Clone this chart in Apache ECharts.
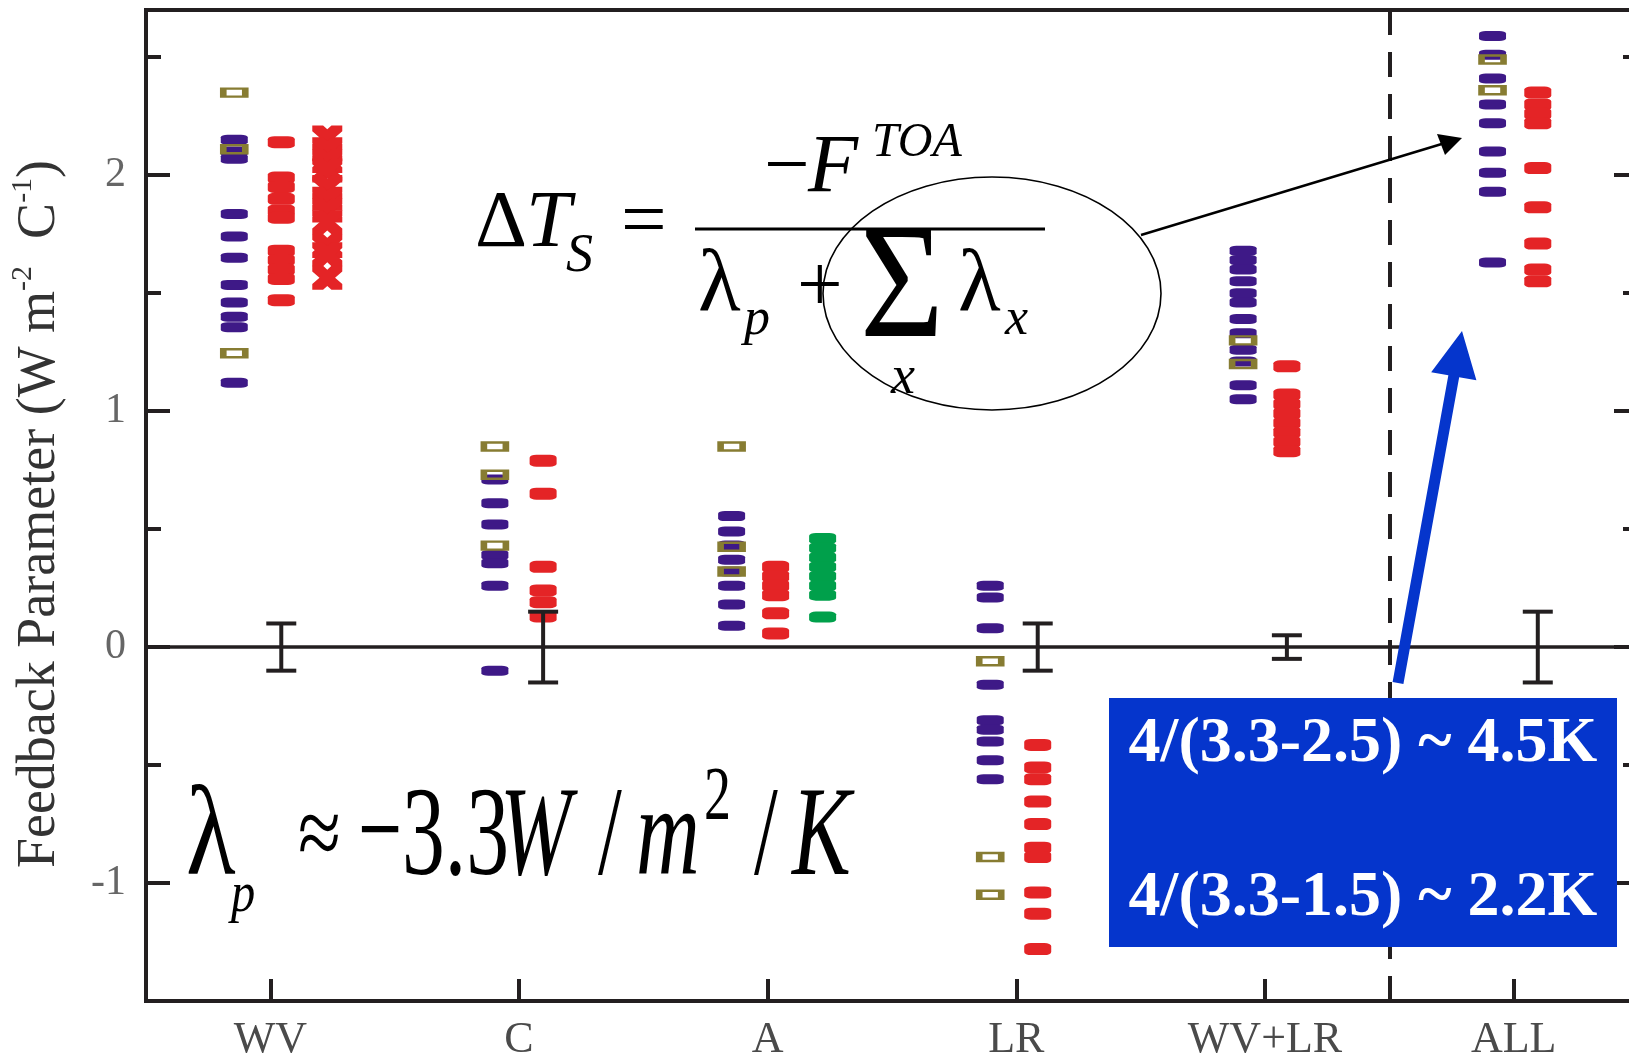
<!DOCTYPE html>
<html><head><meta charset="utf-8">
<script src="https://cdn.jsdelivr.net/npm/echarts@6/dist/echarts.min.js"></script>
<style>html,body{margin:0;padding:0;background:#fff}#c{width:1629px;height:1060px}</style>
</head><body><div id="c"></div>
<script>
// ---------------- DATA ----------------
const categories = ['WV', 'C', 'A', 'LR', 'WV+LR', 'ALL'];
const yTickLabels = [-1, 0, 1, 2];
const yMinorTicks = [-1.5, -0.5, 0.5, 1.5, 2.5];
const xTickValues = [0, 1, 2, 3, 4, 4.5, 5];
const separatorAt = 4.5;

// per category (WV, C, A, LR, WV+LR, ALL)
const purpleValues = [
  [2.15, 2.10, 2.07, 1.835, 1.74, 1.65, 1.535, 1.46, 1.40, 1.355, 1.12],
  [0.71, 0.61, 0.52, 0.39, 0.355, 0.26, -0.10],
  [0.555, 0.49, 0.43, 0.37, 0.32, 0.26, 0.18, 0.09],
  [0.26, 0.21, 0.08, -0.16, -0.31, -0.35, -0.40, -0.48, -0.56],
  [1.68, 1.64, 1.60, 1.55, 1.50, 1.46, 1.39, 1.33, 1.26, 1.21, 1.11, 1.05],
  [2.59, 2.51, 2.41, 2.30, 2.22, 2.10, 2.01, 1.93, 1.63]
];
const oliveValues = [
  [2.35, 2.11, 1.245],
  [0.85, 0.73, 0.43],
  [0.85, 0.425, 0.32],
  [-0.06, -0.89, -1.05],
  [1.30, 1.20],
  [2.49, 2.36]
];
const redValues = [
  [2.14, 1.99, 1.95, 1.90, 1.85, 1.82, 1.68, 1.64, 1.60, 1.56, 1.47],
  [0.79, 0.65, 0.34, 0.24, 0.19, 0.13],
  [0.34, 0.30, 0.26, 0.22, 0.143, 0.058],
  [-0.415, -0.51, -0.56, -0.655, -0.75, -0.85, -0.89, -1.04, -1.13, -1.28],
  [1.19, 1.07, 1.03, 0.99, 0.95, 0.91, 0.87, 0.83],
  [2.35, 2.30, 2.26, 2.22, 2.03, 1.864, 1.71, 1.60, 1.55]
];
const redCrossValuesWV = [2.16, 2.11, 2.06, 2.02, 1.95, 1.90, 1.85, 1.80, 1.70, 1.665, 1.565];
const greenValuesA = [0.46, 0.42, 0.38, 0.34, 0.30, 0.26, 0.22, 0.127];
const errorHalfWidth = [0.10, 0.15, null, 0.10, 0.05, 0.15];

// ---------------- STYLE (column offsets within a category) ----------------
const OFF_PURPLE = [-0.145, -0.097, -0.145, -0.105, -0.088, -0.085];
const OFF_RED = [0.044, 0.097, 0.032, 0.086, 0.088, 0.097];
const OFF_CROSS = 0.229, OFF_GREEN = 0.221;
const INK = '#231f20';
const FONT = '"Liberation Serif", "DejaVu Serif", serif';

function build(vals, offs) {
  const out = [];
  vals.forEach((arr, i) => arr.forEach(v => out.push([i + offs[i], v])));
  return out;
}
const purpleData = build(purpleValues, OFF_PURPLE);
const oliveData = build(oliveValues, OFF_PURPLE);
const redData = build(redValues, OFF_RED);
const crossData = redCrossValuesWV.map(v => [0 + OFF_CROSS, v]);
const greenData = greenValuesA.map(v => [2 + OFF_GREEN, v]);
const errData = [];
errorHalfWidth.forEach((h, i) => { if (h != null) errData.push([i + OFF_RED[i], -h, h]); });

// ---------------- ANNOTATIONS ----------------
function tx(text, left, baseline, fs, o) {
  o = o || {};
  return {
    type: 'text', x: left, y: baseline - 0.3375 * fs, scaleX: o.sx || 1, z: 100, silent: true,
    style: {
      text: text, fontFamily: FONT, fontSize: fs,
      fontStyle: o.it ? 'italic' : 'normal', fontWeight: o.b ? 'bold' : 'normal',
      fill: o.fill || '#000', align: o.align || 'left', verticalAlign: 'middle'
    }
  };
}
function arrowPoly(tail, tip, shaftHalf, headLen, headHalf) {
  const dx = tip[0] - tail[0], dy = tip[1] - tail[1];
  const L = Math.sqrt(dx * dx + dy * dy);
  const d = [dx / L, dy / L], n = [-d[1], d[0]];
  const B = [tip[0] - headLen * d[0], tip[1] - headLen * d[1]];
  const p = (P, k) => [P[0] + k * n[0], P[1] + k * n[1]];
  return [p(tail, -shaftHalf), p(B, -shaftHalf), p(B, -headHalf), tip, p(B, headHalf), p(B, shaftHalf), p(tail, shaftHalf)];
}
const BLUE = '#0535cc';
const graphics = [
  // y-axis title
  {
    type: 'text', x: 40, y: 514, rotation: Math.PI / 2, z: 100, silent: true,
    style: {
      text: '{a|Feedback Parameter (W m}{s|-2}{a|  C}{s|-1}{a|)}',
      align: 'center', verticalAlign: 'middle',
      rich: {
        a: { fontFamily: FONT, fontSize: 54, fill: '#333', lineHeight: 64 },
        s: { fontFamily: FONT, fontSize: 30, fill: '#333', lineHeight: 34, verticalAlign: 'top' }
      }
    }
  },
  // Delta T equation
  tx('Δ', 475, 252, 81),
  tx('T', 526, 252, 81, { it: 1 }),
  tx('S', 566, 275, 54, { it: 1 }),
  tx('=', 621, 252, 81),
  { type: 'line', z: 100, silent: true, shape: { x1: 695, y1: 229, x2: 1045, y2: 229 }, style: { stroke: '#000', lineWidth: 3 } },
  tx('−', 764, 197, 81),
  tx('F', 808, 197, 82, { it: 1 }),
  tx('TOA', 872, 160, 48, { it: 1 }),
  tx('λ', 698, 318, 88),
  tx('p', 744, 338, 52, { it: 1 }),
  tx('+', 797, 317, 81),
  tx('Σ', 860, 348, 160, { sx: 0.9 }),
  tx('x', 891, 397, 54, { it: 1 }),
  tx('λ', 958, 318, 88),
  tx('x', 1005, 338, 52, { it: 1 }),
  // ellipse and black arrow
  { type: 'ellipse', z: 100, silent: true, shape: { cx: 992, cy: 293.5, rx: 169, ry: 116.5 }, style: { fill: 'none', stroke: '#000', lineWidth: 1.6 } },
  { type: 'line', z: 100, silent: true, shape: { x1: 1141, y1: 235, x2: 1445, y2: 143 }, style: { stroke: '#000', lineWidth: 2.4 } },
  { type: 'polygon', z: 100, silent: true, shape: { points: [[1462, 138], [1437, 134], [1445, 155]] }, style: { fill: '#000' } },
  // lambda_p text
  tx('λ', 186, 883, 128, { sx: 0.8 }),
  tx('p', 231, 915, 57, { it: 1, sx: 0.85 }),
  tx('≈', 298, 873, 100, { sx: 0.78 }),
  tx('−', 358, 880, 126, { sx: 0.62 }),
  tx('3.3', 402, 883, 126, { sx: 0.68 }),
  tx('W', 500, 883, 126, { it: 1, sx: 0.68 }),
  tx('/', 598, 883, 126, { sx: 0.68 }),
  tx('m', 636, 883, 126, { it: 1, sx: 0.7 }),
  tx('2', 704, 825, 77, { sx: 0.7 }),
  tx('/', 754, 883, 126, { sx: 0.68 }),
  tx('K', 792, 883, 126, { it: 1, sx: 0.7 }),
  // blue arrow and box
  { type: 'polygon', z: 100, silent: true, shape: { points: arrowPoly([1398, 683], [1462, 331], 5.5, 46, 23) }, style: { fill: BLUE } },
  { type: 'rect', z: 100, silent: true, shape: { x: 1109, y: 698, width: 508, height: 249 }, style: { fill: BLUE } },
  tx('4/(3.3-2.5) ~ 4.5K', 1363, 766, 64, { b: 1, fill: '#fff', align: 'center' }),
  tx('4/(3.3-1.5) ~ 2.2K', 1363, 920, 64, { b: 1, fill: '#fff', align: 'center' })
];

// ---------------- CHART ----------------
const chart = echarts.init(document.getElementById('c'), null, { renderer: 'canvas' });
const yBase = { type: 'value', min: -1.5, max: 2.7, splitLine: { show: false }, axisLabel: { show: false } };
chart.setOption({
  animation: false,
  backgroundColor: '#fff',
  grid: {
    left: 146, top: 10, width: 1492, height: 991, show: true, borderWidth: 4, borderColor: INK,
    containLabel: false, outerBoundsMode: 'none'
  },
  xAxis: {
    type: 'value', min: -0.5, max: 5.5, splitLine: { show: false },
    axisLine: { show: true, onZero: false, lineStyle: { color: INK, width: 4 } },
    axisTick: { show: true, inside: true, length: 22, lineStyle: { color: INK, width: 4 }, customValues: xTickValues },
    axisLabel: {
      show: true, customValues: categories.map((c, i) => i), margin: 17,
      formatter: v => categories[Math.round(v)], color: '#4a4a4a', fontFamily: FONT, fontSize: 44
    }
  },
  yAxis: [
    Object.assign({}, yBase, {
      position: 'left',
      axisLine: { show: true, onZero: false, lineStyle: { color: INK, width: 4 } },
      axisTick: { show: true, inside: true, length: 24, lineStyle: { color: INK, width: 4 }, customValues: yTickLabels },
      axisLabel: { show: true, customValues: yTickLabels, margin: 20, color: '#666', fontFamily: FONT, fontSize: 42 }
    }),
    Object.assign({}, yBase, {
      position: 'left', axisLine: { show: false, onZero: false },
      axisTick: { show: true, inside: true, length: 15, lineStyle: { color: INK, width: 4 }, customValues: yMinorTicks }
    }),
    Object.assign({}, yBase, {
      position: 'right',
      axisLine: { show: true, onZero: false, lineStyle: { color: INK, width: 4 } },
      axisTick: { show: true, inside: true, length: 24, lineStyle: { color: INK, width: 4 }, customValues: yTickLabels }
    }),
    Object.assign({}, yBase, {
      position: 'right', axisLine: { show: false, onZero: false },
      axisTick: { show: true, inside: true, length: 15, lineStyle: { color: INK, width: 4 }, customValues: yMinorTicks }
    })
  ],
  series: [
    {
      type: 'scatter', name: 'purple', data: purpleData, symbol: 'roundRect', symbolSize: [27, 10], z: 3,
      itemStyle: { color: '#3e1987', opacity: 1 }, silent: true,
      markLine: {
        silent: true, symbol: 'none', label: { show: false },
        lineStyle: { color: INK, width: 3.5, type: 'solid', opacity: 1 },
        data: [
          { yAxis: 0 },
          { xAxis: separatorAt, lineStyle: { type: [25, 17], width: 4, color: INK } }
        ]
      }
    },
    {
      type: 'scatter', name: 'olive', data: oliveData, symbol: 'rect', symbolSize: [22, 8], z: 4,
      itemStyle: { color: 'rgba(0,0,0,0)', borderColor: '#877c32', borderWidth: 4, opacity: 1 }, silent: true
    },
    {
      type: 'scatter', name: 'red', data: redData, symbol: 'roundRect', symbolSize: [27, 12], z: 3,
      itemStyle: { color: '#e42426', opacity: 1 }, silent: true
    },
    {
      type: 'scatter', name: 'redCross', data: crossData, z: 3,
      symbol: 'path://M0,0 L3.6,0 L5,1.6 L6.4,0 L10,0 L10,2.4 L7.6,5 L10,7.6 L10,10 L6.4,10 L5,8.4 L3.6,10 L0,10 L0,7.6 L2.4,5 L0,2.4 Z',
      symbolSize: [30, 24], itemStyle: { color: '#e42426', opacity: 1 }, silent: true
    },
    {
      type: 'scatter', name: 'green', data: greenData, symbol: 'roundRect', symbolSize: [27, 11], z: 3,
      itemStyle: { color: '#00a04b', opacity: 1 }, silent: true
    },
    {
      type: 'custom', name: 'error', data: errData, z: 5, silent: true,
      renderItem: function (params, api) {
        const x = api.value(0);
        const pTop = api.coord([x, api.value(2)]);
        const pBot = api.coord([x, api.value(1)]);
        const st = { stroke: INK, lineWidth: 4 };
        return {
          type: 'group', children: [
            { type: 'line', shape: { x1: pTop[0], y1: pTop[1], x2: pBot[0], y2: pBot[1] }, style: st },
            { type: 'line', shape: { x1: pTop[0] - 15, y1: pTop[1], x2: pTop[0] + 15, y2: pTop[1] }, style: st },
            { type: 'line', shape: { x1: pBot[0] - 15, y1: pBot[1], x2: pBot[0] + 15, y2: pBot[1] }, style: st }
          ]
        };
      }
    }
  ],
  graphic: graphics
});
</script></body></html>
